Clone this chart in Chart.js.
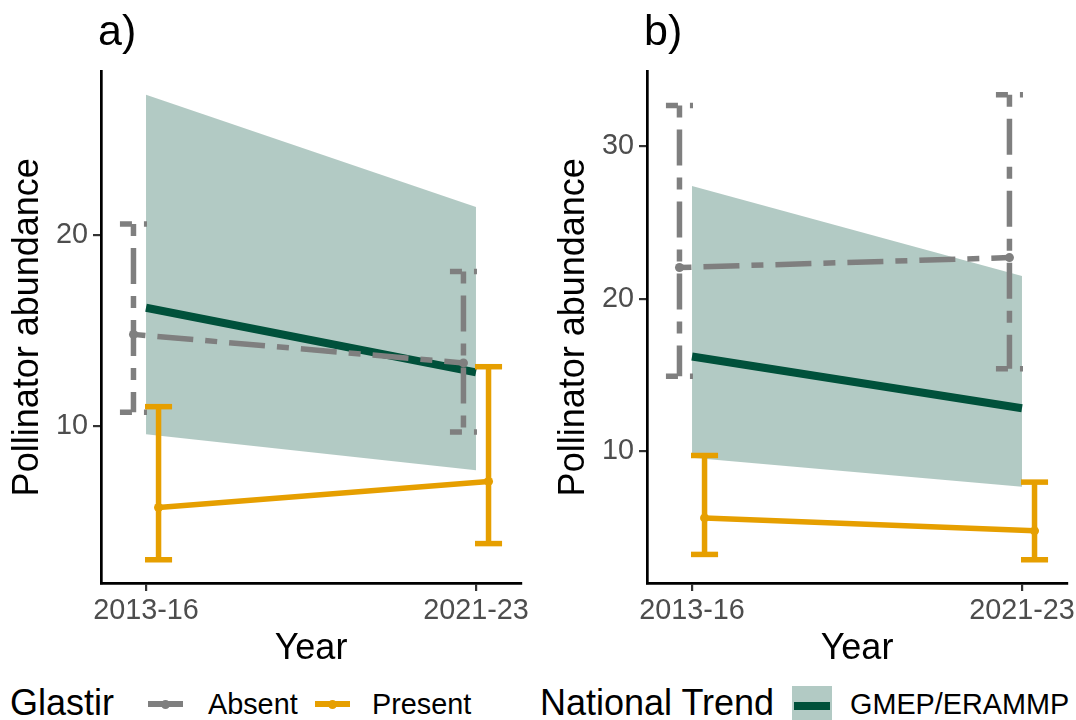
<!DOCTYPE html>
<html>
<head>
<meta charset="utf-8">
<script src="https://cdn.jsdelivr.net/npm/chart.js@4.4.1/dist/chart.umd.min.js"></script>
<style>
  html, body { margin: 0; padding: 0; background: #fff; }
  #wrap { position: relative; width: 1076px; height: 720px; overflow: hidden; background: #fff;
          font-family: 'Liberation Sans', Arial, sans-serif; }
  canvas { position: absolute; top: 0; }
  #panelA { left: 0; }
  #panelB { left: 546px; }
  .lg { position: absolute; line-height: 1; white-space: nowrap; color: #000; }
  .lg-title { font-size: 36px; }
  .lg-text { font-size: 28.8px; }
  .key-line { position: absolute; height: 6px; }
  .key-dot { position: absolute; width: 9px; height: 9px; border-radius: 50%; }
</style>
</head>
<body>
<div id="wrap">
  <canvas id="panelA" width="538" height="680"></canvas>
  <canvas id="panelB" width="530" height="680"></canvas>

  <div class="lg lg-title" style="left:10px; top:685px;">Glastir</div>
  <div class="key-line" style="left:148px; top:701px; width:35px; background:#7F7F7F;"></div>
  <div class="key-dot" style="left:161px; top:699.5px; background:#7F7F7F;"></div>
  <div class="lg lg-text" style="left:208px; top:690px;">Absent</div>
  <div class="key-line" style="left:315px; top:701px; width:35px; background:#E69F00;"></div>
  <div class="key-dot" style="left:328px; top:699.5px; background:#E69F00;"></div>
  <div class="lg lg-text" style="left:372px; top:690px;">Present</div>

  <div class="lg lg-title" style="left:540px; top:685px;">National Trend</div>
  <div style="position:absolute; left:792px; top:686px; width:40px; height:40px; background:rgba(0,81,59,0.3);"></div>
  <div class="key-line" style="left:794px; top:702px; width:36px; height:8px; background:#00513B;"></div>
  <div class="lg lg-text" style="left:850px; top:690px;">GMEP/ERAMMP</div>
</div>

<script>
// Survey periods on the x axis
const years = ['2013-16', '2021-23'];

// National trend (GMEP/ERAMMP): fitted mean and confidence band
const trendMean  = [16.2, 12.8];
const trendLower = [9.55, 7.65];
const trendUpper = [27.4, 21.5];

// Panel a) – Glastir absent / present
const absentMeanA   = [14.8, 13.3];
const absentLowerA  = [10.7, 9.67];
const absentUpperA  = [20.6, 18.1];
const presentMeanA  = [5.7, 7.07];
const presentLowerA = [2.95, 3.8];
const presentUpperA = [11.0, 13.1];

// Panel b) – Glastir absent / present
const absentMeanB   = [22.05, 22.7];
const absentLowerB  = [14.9, 15.4];
const absentUpperB  = [32.7, 33.4];
const presentMeanB  = [5.6, 4.75];
const presentLowerB = [3.2, 2.85];
const presentUpperB = [9.7, 7.95];

// Y axis tick labels per panel
const yTicksA = [10, 20];
const yTicksB = [10, 20, 30];

// ---- styling ----
const FONT = "'Liberation Sans', Arial, sans-serif";
const GREY = '#7F7F7F';
const ORANGE = '#E69F00';
const GREEN = '#00513B';
const BAND = 'rgba(0,81,59,0.3)';
const TWODASH = [12, 12, 36, 12];
const DODGE = 0.038;      // horizontal offset of the two Glastir groups (x units)
const CAP = 0.041;        // half-width of error bar caps (x units)
const X_PAD = 0.1364;     // x expansion beyond the first/last period

function pts(vals, dx) {
  return vals.map((v, i) => ({ x: i + dx, y: v }));
}

function lineDs(data, color, width, dash, extra) {
  return Object.assign({
    data, borderColor: color, backgroundColor: color, borderWidth: width,
    borderDash: dash || [], pointRadius: 0, fill: false, tension: 0,
    showLine: true, clip: false
  }, extra || {});
}

// Error bars as three separate paths per period (top cap, stem, bottom cap)
function errorBarDatasets(lower, upper, dx, color, width, dash) {
  const out = [];
  years.forEach((_, i) => {
    const cx = i + dx;
    out.push(lineDs([{ x: cx - CAP, y: upper[i] }, { x: cx + CAP, y: upper[i] }], color, width, dash));
    out.push(lineDs([{ x: cx, y: upper[i] }, { x: cx, y: lower[i] }], color, width, dash));
    out.push(lineDs([{ x: cx - CAP, y: lower[i] }, { x: cx + CAP, y: lower[i] }], color, width, dash));
  });
  return out;
}

const panelTitle = {
  id: 'panelTitle',
  afterDraw(chart, args, opts) {
    const ctx = chart.ctx;
    ctx.save();
    ctx.font = '43px ' + FONT;
    ctx.fillStyle = '#000';
    ctx.textBaseline = 'alphabetic';
    ctx.textAlign = 'left';
    ctx.fillText(opts.text, chart.chartArea.left - 3, 45);
    ctx.restore();
  }
};

function makePanel(canvasId, title, absM, absL, absU, preM, preL, preU, yTicks, padRight, absDash) {
  const all = [].concat(absL, absU, preL, preU, trendLower, trendUpper);
  const lo = Math.min(...all), hi = Math.max(...all);
  const ex = 0.05 * (hi - lo);

  const datasets = [];
  datasets.push(lineDs(pts(trendLower, 0), 'rgba(0,0,0,0)', 0, null));
  datasets.push(lineDs(pts(trendUpper, 0), 'rgba(0,0,0,0)', 0, null, { fill: '-1', backgroundColor: BAND }));
  datasets.push(lineDs(pts(trendMean, 0), GREEN, 8, null));
  errorBarDatasets(absL, absU, -DODGE, GREY, 5.5, absDash).forEach(d => datasets.push(d));
  errorBarDatasets(preL, preU, DODGE, ORANGE, 5.5, null).forEach(d => datasets.push(d));
  datasets.push(lineDs(pts(absM, -DODGE), GREY, 5.5, absDash,
    { pointRadius: 4.5, pointBorderWidth: 0, pointBackgroundColor: GREY }));
  datasets.push(lineDs(pts(preM, DODGE), ORANGE, 5.5, null,
    { pointRadius: 4.5, pointBorderWidth: 0, pointBackgroundColor: ORANGE }));
  datasets.forEach((d, i) => { d.order = -i; });

  return new Chart(document.getElementById(canvasId), {
    type: 'line',
    data: { datasets },
    plugins: [panelTitle],
    options: {
      responsive: false,
      animation: false,
      events: [],
      layout: { padding: { top: 71.5, right: padRight, bottom: 0, left: 0 } },
      plugins: {
        legend: { display: false },
        tooltip: { enabled: false },
        panelTitle: { text: title }
      },
      scales: {
        x: {
          type: 'linear',
          min: -X_PAD, max: 1 + X_PAD,
          afterBuildTicks: s => { s.ticks = years.map((_, i) => ({ value: i })); },
          afterFit: s => { s.height = 97; s.paddingLeft = 0; s.paddingRight = 0; },
          ticks: {
            autoSkip: false, maxRotation: 0, padding: 3,
            color: '#4D4D4D', font: { size: 28.8, family: FONT },
            callback: v => years[v]
          },
          grid: { drawOnChartArea: false, drawTicks: true, tickLength: 8, color: '#333333', lineWidth: 2.2 },
          border: { display: true, color: '#000', width: 2.7 },
          title: { display: true, text: 'Year', color: '#000',
                   font: { size: 36, family: FONT }, padding: { top: 0, bottom: 9 } }
        },
        y: {
          type: 'linear',
          min: lo - ex, max: hi + ex,
          afterBuildTicks: s => { s.ticks = yTicks.map(v => ({ value: v })); },
          afterFit: s => { s.width = 101; s.paddingTop = 0; s.paddingBottom = 0; },
          ticks: { padding: 5, color: '#4D4D4D', font: { size: 28.8, family: FONT },
                   callback: v => String(v) },
          grid: { drawOnChartArea: false, drawTicks: true, tickLength: 8, color: '#333333', lineWidth: 2.2 },
          border: { display: true, color: '#000', width: 2.7 },
          title: { display: true, text: 'Pollinator abundance', color: '#000',
                   font: { size: 36, family: FONT }, padding: { top: 6, bottom: 0 } }
        }
      }
    }
  });
}

makePanel('panelA', 'a)', absentMeanA, absentLowerA, absentUpperA,
          presentMeanA, presentLowerA, presentUpperA, yTicksA, 17, TWODASH);
makePanel('panelB', 'b)', absentMeanB, absentLowerB, absentUpperB,
          presentMeanB, presentLowerB, presentUpperB, yTicksB, 9, TWODASH);
</script>
</body>
</html>
